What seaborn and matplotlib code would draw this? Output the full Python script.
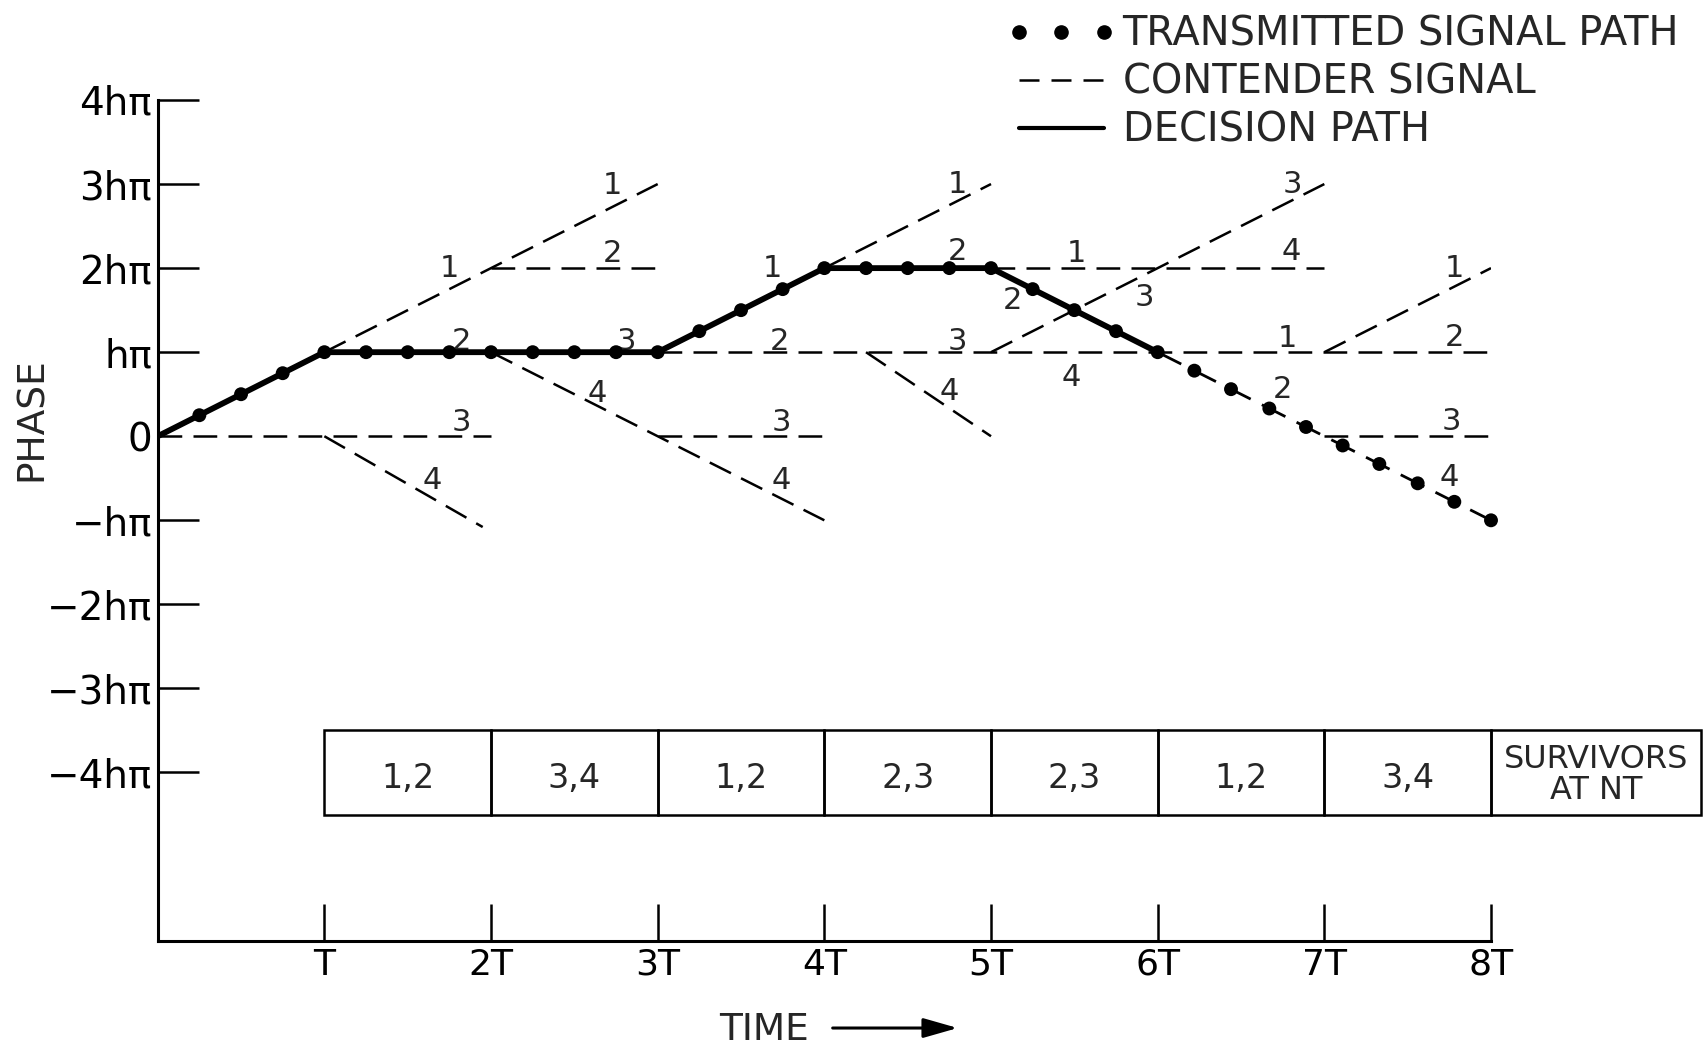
import numpy as np
import pandas as pd
import matplotlib
matplotlib.use("Agg")
import matplotlib.pyplot as plt
from matplotlib.patches import Rectangle
from matplotlib.lines import Line2D
from matplotlib.legend_handler import HandlerLine2D
import seaborn as sns

# ---------------- data (time in units of T, phase in units of h*pi) ----------------
decision_t = [0, 1, 2, 3, 4, 5, 6]
decision_phase = [0, 1, 1, 1, 2, 2, 1]

tail_t = [6, 7, 8]
tail_phase = [1, 0, -1]

dot_t = [0.25, 0.5, 0.75, 1.0, 1.25, 1.5, 1.75, 2.0, 2.25, 2.5, 2.75, 3.0,
         3.25, 3.5, 3.75, 4.0, 4.25, 4.5, 4.75, 5.0, 5.25, 5.5, 5.75, 6.0,
         6.22, 6.44, 6.67, 6.89, 7.11, 7.33, 7.56, 7.78, 8.0]
dot_phase = [0.25, 0.5, 0.75, 1.0, 1, 1, 1, 1, 1, 1, 1, 1,
             1.25, 1.5, 1.75, 2.0, 2, 2, 2, 2, 1.75, 1.5, 1.25, 1.0,
             0.78, 0.56, 0.33, 0.11, -0.11, -0.33, -0.56, -0.78, -1.0]

contender_seg = ["A", "A", "B", "B", "C", "C", "D", "D", "E", "E", "F", "F", "G", "G",
                 "H", "H", "I", "I", "J", "J", "K", "K", "L", "L", "M", "M"]
contender_t = [0, 2, 1, 1.95, 1, 3, 2, 3, 2, 4, 3, 4, 3, 8,
               4.25, 5, 4, 5, 5, 7, 5, 7, 7, 8, 7, 8]
contender_phase = [0, 0, 0, -1.08, 1, 3, 2, 2, 1, -1, 0, 0, 1, 1,
                   1, 0, 2, 3, 2, 2, 1, 3, 1, 2, 0, 0]

branch_text = ["1", "2", "3", "4",
               "1", "2", "3", "4",
               "1", "2", "3", "4",
               "1", "2", "3", "4",
               "1", "2", "3", "4",
               "3", "4", "1", "2",
               "1", "2", "3", "4"]
branch_t = [1.75, 1.82, 1.82, 1.65,
            2.73, 2.73, 2.81, 2.64,
            3.69, 3.73, 3.74, 3.74,
            4.80, 4.80, 4.80, 4.75,
            5.51, 5.13, 5.92, 5.48,
            6.81, 6.80, 6.78, 6.75,
            7.78, 7.78, 7.76, 7.75]
branch_phase = [2.05, 1.18, 0.21, -0.48,
                3.03, 2.22, 1.18, 0.56,
                2.05, 1.18, 0.21, -0.48,
                3.05, 2.25, 1.18, 0.58,
                2.22, 1.66, 1.70, 0.75,
                3.05, 2.25, 1.21, 0.60,
                2.05, 1.23, 0.23, -0.44]

survivor_edges = [1, 2, 3, 4, 5, 6, 7, 8, 9.26]
survivor_labels = ["1,2", "3,4", "1,2", "2,3", "2,3", "1,2", "3,4", "SURVIVORS\nAT NT"]

x_ticks = [1, 2, 3, 4, 5, 6, 7, 8]
x_labels = ["T", "2T", "3T", "4T", "5T", "6T", "7T", "8T"]
y_ticks = [-4, -3, -2, -1, 0, 1, 2, 3, 4]
y_labels = ["−4hπ", "−3hπ", "−2hπ", "−hπ", "0", "hπ", "2hπ", "3hπ", "4hπ"]

legend_labels = ["TRANSMITTED SIGNAL PATH", "CONTENDER SIGNAL", "DECISION PATH"]

# ---------------- style ----------------
sns.set_style("white")
plt.rcParams["font.family"] = ["DejaVu Sans"]
DASH = (0, (9.5, 4.5))

fig = plt.figure(figsize=(17.05, 10.45), dpi=100)
ax = fig.add_axes([157.7 / 1705, 104.4 / 1045, 1333.3 / 1705, 840.6 / 1045])

cdf = pd.DataFrame({"t": contender_t, "phase": contender_phase, "seg": contender_seg})
sns.lineplot(data=cdf, x="t", y="phase", units="seg", estimator=None, sort=False,
             color="black", lw=1.8, linestyle=DASH, ax=ax, legend=False)

sns.lineplot(x=tail_t, y=tail_phase, estimator=None, sort=False, color="black",
             lw=2.0, linestyle=DASH, ax=ax)

sns.lineplot(x=decision_t, y=decision_phase, estimator=None, sort=False, color="black",
             lw=4.2, ax=ax, solid_joinstyle="round", solid_capstyle="round", zorder=4)

sns.scatterplot(x=dot_t, y=dot_phase, color="black", s=100, edgecolor="none",
                ax=ax, zorder=5, clip_on=False)

for s, t, p in zip(branch_text, branch_t, branch_phase):
    ax.annotate(s, (t, p), xytext=(0, -3), textcoords="offset points",
                fontsize=22, ha="center", va="center")

for i, lab in enumerate(survivor_labels):
    x0, x1 = survivor_edges[i], survivor_edges[i + 1]
    ax.add_patch(Rectangle((x0, -4.5), x1 - x0, 1.0, fill=False, ec="black",
                           lw=1.8, clip_on=False))
    if "\n" in lab:
        ax.annotate(lab, ((x0 + x1) / 2, -4), xytext=(0, -2), textcoords="offset points",
                    fontsize=23, ha="center", va="center", linespacing=1.0,
                    annotation_clip=False)
    else:
        ax.annotate(lab, ((x0 + x1) / 2, -4), xytext=(0, -4), textcoords="offset points",
                    fontsize=24, ha="center", va="center", annotation_clip=False)

ax.set_xlim(0, 8)
ax.set_ylim(-6, 4)
ax.set_xticks(x_ticks, x_labels)
ax.set_yticks(y_ticks, y_labels)
ax.tick_params(axis="x", bottom=True, direction="in", length=27, width=1.8, pad=5,
               labelsize=26, colors="black")
ax.tick_params(axis="y", left=True, direction="in", length=29.5, width=1.8, pad=4,
               labelsize=28, colors="black")
for tk, v in zip(ax.yaxis.get_major_ticks(), y_ticks):
    if v == 0:
        tk.tick1line.set_visible(False)

sns.despine(ax=ax)
for side in ("left", "bottom"):
    ax.spines[side].set_linewidth(2.2)
    ax.spines[side].set_color("black")

ax.set_ylabel("PHASE", fontsize=27)
ax.yaxis.set_label_coords(-0.081, 0.6205)
ax.set_xlabel("TIME", fontsize=27)
ax.xaxis.set_label_coords(0.4545, -0.085)
ax.annotate("", xy=(4.80, -7.04), xytext=(4.05, -7.04), xycoords="data",
            arrowprops=dict(arrowstyle="-|>,head_length=1.05,head_width=0.3",
                            lw=2.2, color="black", shrinkA=0, shrinkB=0,
                            mutation_scale=20),
            annotation_clip=False)

h1 = Line2D([], [], marker="o", ls="none", color="black", ms=9.5)
h2 = Line2D([], [], color="black", lw=1.8, ls=(0, (8, 4.8)))
h3 = Line2D([], [], color="black", lw=3)
ax.legend([h1, h2, h3], legend_labels, loc="upper left",
          bbox_to_anchor=(1019 / 1705, 1 - 14.5 / 1045), bbox_transform=fig.transFigure,
          frameon=False, fontsize=28.8, handlelength=2.12, handletextpad=0.47,
          labelspacing=0.205, borderpad=0, borderaxespad=0, numpoints=3,
          handler_map={Line2D: HandlerLine2D(marker_pad=0, numpoints=3)})

fig.savefig("out.png", dpi=100, facecolor="white")
